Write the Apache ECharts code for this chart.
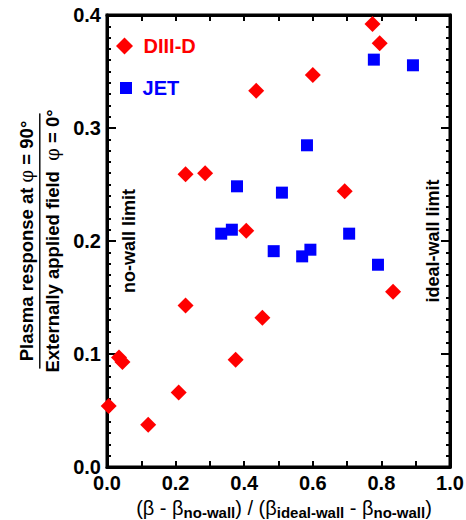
<!DOCTYPE html>
<html>
<head>
<meta charset="utf-8">
<script src="https://cdn.jsdelivr.net/npm/echarts@6/dist/echarts.min.js"></script>
<style>
  html, body { margin: 0; padding: 0; background: #fff; overflow: hidden; }
  #chart { width: 466px; height: 520px; }
</style>
</head>
<body>
<div id="chart"></div>
<script>
// ---- Data ----
const diiidX = [0.005, 0.035, 0.045, 0.12, 0.209, 0.229, 0.229, 0.286, 0.375, 0.406, 0.435, 0.453, 0.600, 0.693, 0.774, 0.795, 0.834];
const diiidY = [0.054, 0.097, 0.093, 0.0375, 0.066, 0.143, 0.259, 0.260, 0.095, 0.209, 0.333, 0.132, 0.347, 0.244, 0.392, 0.375, 0.155];
const jetX = [0.333, 0.364, 0.379, 0.486, 0.510, 0.569, 0.583, 0.593, 0.706, 0.778, 0.790, 0.892];
const jetY = [0.2065, 0.210, 0.2484, 0.191, 0.2428, 0.1864, 0.2847, 0.1923, 0.2065, 0.3605, 0.179, 0.3555];
const seriesNames = ['DIII-D', 'JET'];
const xTicks = [0.0, 0.2, 0.4, 0.6, 0.8, 1.0];
const yTicks = [0.0, 0.1, 0.2, 0.3, 0.4];

const FONT = '"Liberation Sans", Arial, sans-serif';
const SERIF = '"DejaVu Serif", serif';

const chart = echarts.init(document.getElementById('chart'), null, { renderer: 'svg' });

const pairs = (xs, ys) => xs.map((x, i) => [x, ys[i]]);

function makeX(pos, showLabel) {
  return {
    type: 'value', min: xTicks[0], max: xTicks[xTicks.length - 1], interval: 0.2,
    position: pos,
    axisLine: { show: true, onZero: false, lineStyle: { color: '#000', width: 3 } },
    axisTick: { show: true, inside: true, length: 6, lineStyle: { color: '#000', width: 2 } },
    minorTick: { show: true, splitNumber: 2, length: 6, lineStyle: { color: '#000', width: 2 } },
    splitLine: { show: false },
    minorSplitLine: { show: false },
    axisLabel: { show: showLabel, margin: 6, color: '#000', fontFamily: FONT, fontWeight: 'bold', fontSize: 20,
      formatter: v => v.toFixed(1) }
  };
}
function makeY(pos, showLabel) {
  return {
    type: 'value', min: yTicks[0], max: yTicks[yTicks.length - 1], interval: 0.1,
    position: pos,
    axisLine: { show: true, onZero: false, lineStyle: { color: '#000', width: 3 } },
    axisTick: { show: true, inside: true, length: 9, lineStyle: { color: '#000', width: 2 } },
    minorTick: { show: true, splitNumber: 10, length: 4, lineStyle: { color: '#000', width: 2 } },
    splitLine: { show: false },
    minorSplitLine: { show: false },
    axisLabel: { show: showLabel, margin: 6, color: '#000', fontFamily: FONT, fontWeight: 'bold', fontSize: 20,
      formatter: v => v.toFixed(1) }
  };
}
// invisible axis used only to carry a rotated annotation as its name
function noteAxis(pos, offset, text) {
  return {
    type: 'value', min: yTicks[0], max: yTicks[yTicks.length - 1], interval: 0.1,
    position: pos, offset: offset,
    axisLine: { show: false }, axisTick: { show: false }, axisLabel: { show: false },
    splitLine: { show: false },
    name: text, nameLocation: 'middle', nameRotate: 90, nameGap: 0,
    nameTextStyle: { color: '#000', fontFamily: FONT, fontWeight: 'bold', fontSize: 18, lineHeight: 18 }
  };
}

const xMain = makeX('bottom', true);
xMain.name = '{r|(β - β}{s|no-wall}{r|) / (β}{s|ideal-wall}{r| - β}{s|no-wall}{r|)}';
xMain.nameLocation = 'middle';
xMain.nameGap = 24;
xMain.nameTextStyle = {
  color: '#000',
  padding: [0, 0, 0, 11],
  rich: {
    r: { fontFamily: FONT, fontWeight: 'normal', fontSize: 20, lineHeight: 24, verticalAlign: 'middle', color: '#000' },
    s: { fontFamily: FONT, fontWeight: 'bold', fontSize: 15, lineHeight: 14, verticalAlign: 'bottom', color: '#000' }
  }
};

const yMain = makeY('left', true);
yMain.name = '{a|Plasma response at }{ap|φ}{a| = 90°}\n{hr|}\n{b|Externally applied field  }{bp|φ}{b| = 0°}';
yMain.nameLocation = 'middle';
yMain.nameRotate = 90;
yMain.nameGap = 43;
yMain.nameTextStyle = {
  color: '#000',
  rich: {
    a: { fontFamily: FONT, fontWeight: 'bold', fontSize: 18.5, lineHeight: 22, color: '#000' },
    ap: { fontFamily: SERIF, fontWeight: 'normal', fontSize: 18, lineHeight: 22, color: '#000' },
    hr: { width: 255, height: 0, lineHeight: 4, borderColor: '#000', borderWidth: 1 },
    b: { fontFamily: FONT, fontWeight: 'bold', fontSize: 18.5, lineHeight: 22, color: '#000' },
    bp: { fontFamily: SERIF, fontWeight: 'normal', fontSize: 18, lineHeight: 22, color: '#000' }
  }
};

const option = {
  animation: false,
  backgroundColor: '#fff',
  grid: { left: 107, right: 16, top: 15, bottom: 53, containLabel: false, outerBoundsMode: 'none',
    show: true, borderColor: '#000', borderWidth: 3, backgroundColor: 'transparent' },
  xAxis: [xMain, makeX('top', false)],
  yAxis: [
    yMain,
    makeY('right', false),
    noteAxis('left', -31, 'no-wall limit'),
    noteAxis('right', -26, 'ideal-wall limit')
  ],
  legend: [
    {
      data: [{ name: seriesNames[0], icon: 'diamond', textStyle: { color: '#ff0000' } }],
      formatter: ' {name}',
      left: 116, top: 36, padding: 0, itemWidth: 17, itemHeight: 17, selectedMode: false,
      textStyle: { fontFamily: FONT, fontWeight: 'bold', fontSize: 20 }
    },
    {
      data: [{ name: seriesNames[1], icon: 'rect', textStyle: { color: '#0000ff' } }],
      formatter: ' {name}',
      left: 120, top: 78, padding: 0, itemWidth: 12, itemHeight: 12, selectedMode: false,
      textStyle: { fontFamily: FONT, fontWeight: 'bold', fontSize: 20 }
    }
  ],
  series: [
    {
      name: seriesNames[0], type: 'scatter', symbol: 'diamond', symbolSize: 16,
      itemStyle: { color: '#ff0000', opacity: 1 }, data: pairs(diiidX, diiidY), clip: false, z: 3
    },
    {
      name: seriesNames[1], type: 'scatter', symbol: 'rect', symbolSize: 12,
      itemStyle: { color: '#0000ff', opacity: 1 }, data: pairs(jetX, jetY), clip: false, z: 3
    }
  ]
};

chart.setOption(option);
chart.getZr().refreshImmediately();
</script>
</body>
</html>
